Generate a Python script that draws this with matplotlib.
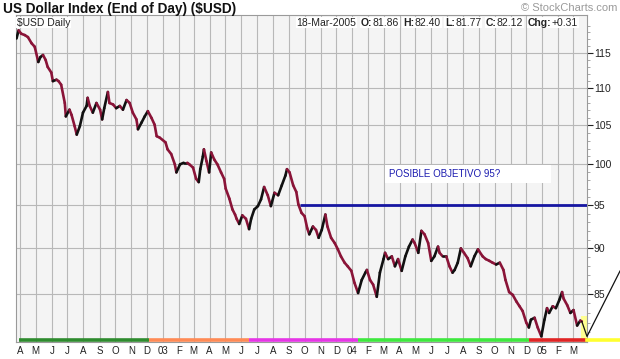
import matplotlib
matplotlib.use("Agg")
import matplotlib.pyplot as plt
import matplotlib.dates as mdates
import pandas as pd
from matplotlib.collections import LineCollection
from matplotlib.lines import Line2D
from matplotlib.patches import Rectangle
from matplotlib.ticker import FixedLocator, FuncFormatter, NullFormatter

PLAIN = ["Liberation Sans", "DejaVu Sans"]

# closes (roughly twice a week)
CLOSE_DATES = [
    "2002-03-25", "2002-03-29", "2002-04-03", "2002-04-10", "2002-04-16", "2002-04-23",
    "2002-04-29", "2002-05-06", "2002-05-10", "2002-05-15", "2002-05-20", "2002-05-24",
    "2002-05-31", "2002-06-03", "2002-06-10", "2002-06-14", "2002-06-19", "2002-06-26",
    "2002-06-28", "2002-07-05", "2002-07-09", "2002-07-15", "2002-07-19", "2002-07-25",
    "2002-07-31", "2002-08-07", "2002-08-09", "2002-08-13", "2002-08-19", "2002-08-26",
    "2002-09-02", "2002-09-06", "2002-09-10", "2002-09-17", "2002-09-20", "2002-09-27",
    "2002-10-03", "2002-10-10", "2002-10-16", "2002-10-23", "2002-10-29", "2002-11-04",
    "2002-11-11", "2002-11-14", "2002-11-21", "2002-11-27", "2002-12-03", "2002-12-10",
    "2002-12-16", "2002-12-20", "2002-12-26", "2003-01-06", "2003-01-10", "2003-01-17",
    "2003-01-24", "2003-01-27", "2003-02-03", "2003-02-10", "2003-02-17", "2003-02-21",
    "2003-02-28", "2003-03-06", "2003-03-11", "2003-03-14", "2003-03-19", "2003-03-21",
    "2003-03-26", "2003-03-31", "2003-04-04", "2003-04-10", "2003-04-16", "2003-04-23",
    "2003-04-29", "2003-05-02", "2003-05-09", "2003-05-15", "2003-05-20", "2003-05-23",
    "2003-05-28", "2003-06-03", "2003-06-10", "2003-06-16", "2003-06-20", "2003-06-26",
    "2003-07-03", "2003-07-09", "2003-07-15", "2003-07-22", "2003-07-28", "2003-08-04",
    "2003-08-11", "2003-08-18", "2003-08-25", "2003-08-28", "2003-09-02", "2003-09-09",
    "2003-09-15", "2003-09-19", "2003-09-25", "2003-10-01", "2003-10-06", "2003-10-10",
    "2003-10-17", "2003-10-23", "2003-10-28", "2003-11-03", "2003-11-10", "2003-11-14",
    "2003-11-21", "2003-11-28", "2003-12-04", "2003-12-10", "2003-12-17", "2003-12-23",
    "2003-12-30", "2004-01-05", "2004-01-12", "2004-01-19", "2004-01-26", "2004-01-29",
    "2004-02-04", "2004-02-10", "2004-02-17", "2004-02-23", "2004-03-01", "2004-03-04",
    "2004-03-10", "2004-03-17", "2004-03-23", "2004-03-29", "2004-04-05", "2004-04-12",
    "2004-04-19", "2004-04-26", "2004-04-30", "2004-05-07", "2004-05-13", "2004-05-19",
    "2004-05-26", "2004-06-01", "2004-06-07", "2004-06-14", "2004-06-17", "2004-06-23",
    "2004-06-30", "2004-07-06", "2004-07-12", "2004-07-16", "2004-07-22", "2004-07-28",
    "2004-08-03", "2004-08-10", "2004-08-16", "2004-08-23", "2004-08-30", "2004-09-01",
    "2004-09-08", "2004-09-14", "2004-09-21", "2004-09-27", "2004-10-04", "2004-10-11",
    "2004-10-18", "2004-10-22", "2004-10-29", "2004-11-05", "2004-11-12", "2004-11-18",
    "2004-11-24", "2004-12-01", "2004-12-06", "2004-12-10", "2004-12-17", "2004-12-23",
    "2004-12-30", "2005-01-05", "2005-01-10", "2005-01-14", "2005-01-21", "2005-01-27",
    "2005-02-03", "2005-02-08", "2005-02-11", "2005-02-18", "2005-02-24", "2005-03-02",
    "2005-03-09", "2005-03-15", "2005-03-18",
]
CLOSES = [
    117.1, 118.3, 117.8, 117.6, 117.3, 116.4,
    115.9, 113.7, 114.4, 114.7, 114.0, 113.0,
    112.2, 111.0, 111.2, 111.0, 110.5, 108.0,
    106.2, 107.1, 106.4, 104.9, 103.8, 104.9,
    106.7, 107.6, 108.7, 107.6, 106.7, 108.0,
    107.1, 105.8, 107.3, 109.5, 108.0, 107.8,
    107.3, 107.6, 107.1, 108.4, 108.0, 106.7,
    105.8, 104.5, 105.4, 106.2, 106.9, 106.0,
    105.1, 103.6, 103.4, 102.8, 101.9, 101.3,
    100.0, 99.0, 100.0, 100.2, 100.2, 100.0,
    99.6, 98.2, 97.8, 99.4, 101.0, 101.9,
    100.4, 99.0, 101.5, 100.6, 100.0, 99.0,
    98.2, 97.0, 95.8, 94.5, 93.9, 93.4,
    92.8, 93.8, 93.4, 92.2, 93.4, 94.5,
    94.9, 95.7, 97.2, 96.2, 94.9, 96.5,
    96.2, 97.4, 98.6, 99.4, 99.0, 97.4,
    96.6, 95.1, 94.1, 93.7, 92.3, 91.6,
    92.5, 92.1, 91.2, 92.1, 93.9, 92.5,
    91.2, 90.6, 89.9, 89.1, 88.4, 88.0,
    87.5, 86.2, 85.1, 86.5, 87.3, 87.6,
    86.5, 86.0, 84.7, 87.3, 88.8, 89.5,
    88.8, 89.1, 88.0, 88.8, 87.5, 89.1,
    90.2, 91.0, 90.6, 89.5, 92.0, 91.6,
    90.6, 88.6, 89.1, 90.2, 89.5, 89.1,
    89.1, 88.0, 87.3, 87.6, 88.4, 90.0,
    89.5, 88.9, 88.0, 89.1, 89.9, 89.7,
    89.1, 88.8, 88.6, 88.4, 88.2, 88.4,
    87.6, 86.5, 85.2, 84.9, 84.2, 83.7,
    83.2, 82.0, 81.5, 82.3, 82.5, 81.5,
    80.6, 82.3, 83.5, 83.0, 83.7, 83.5,
    84.4, 85.2, 84.5, 83.8, 83.0, 83.3,
    81.7, 82.2, 82.12,
]

TARGET_LEVEL = 95
TARGET_FROM = "2003-09-22"
TARGET_LABEL = "POSIBLE OBJETIVO 95?"

# cycle bar along the bottom: boundaries and colours
CYCLE_BOUNDS = ["2002-03-29", "2002-12-05", "2003-06-15", "2004-01-11", "2004-12-06", "2005-03-28"]
CYCLE_COLOURS = ["#2e8b2e", "#ff8a55", "#e635e6", "#3ee83e", "#e02424"]

Y_TICKS = [85, 90, 95, 100, 105, 110, 115]
X_RANGE = ["2002-03-24", "2005-03-28"]
Y_RANGE = [80.03, 120.6]

HEADER_PIECES = [("18-Mar-2005", False), ("O:", True), ("81.86", False), ("H:", True),
                 ("82.40", False), ("L:", True), ("81.77", False), ("C:", True),
                 ("82.12", False), ("Chg:", True), ("+0.31", False)]

dates = mdates.date2num(pd.to_datetime(CLOSE_DATES))
x_lo, x_hi = mdates.date2num(pd.to_datetime(X_RANGE))

fig = plt.figure(figsize=(6.2, 3.59), dpi=100)
ax = fig.add_axes([16 / 620, 17 / 359, 571 / 620, 327 / 359])
ax.set_facecolor("#f4f4f4")
ax.set_yscale("log")
ax.set_xlim(x_lo, x_hi)
ax.set_ylim(*Y_RANGE)

# price line, black when rising, maroon when falling
segs = [[(dates[i], CLOSES[i]), (dates[i + 1], CLOSES[i + 1])] for i in range(len(dates) - 1)]
cols = ["#111111" if CLOSES[i + 1] >= CLOSES[i] else "#8a1438" for i in range(len(dates) - 1)]
ax.add_collection(LineCollection(segs, colors=cols, linewidths=1.9, zorder=3,
                                 capstyle="round", joinstyle="round"))

# target line and label
ax.hlines(TARGET_LEVEL, mdates.date2num(pd.Timestamp(TARGET_FROM)), x_hi,
          color="#1616a2", lw=2, zorder=4)
ax.add_patch(Rectangle((0.646, 0.486), 0.291, 0.055, transform=ax.transAxes,
                       facecolor="white", edgecolor="none", zorder=4))
ax.text(0.653, 0.514, TARGET_LABEL, transform=ax.transAxes, color="#1c1cb0",
        fontsize=7, family=PLAIN, va="center", ha="left", zorder=5)

# cycle bar
bounds = mdates.date2num(pd.to_datetime(CYCLE_BOUNDS))
for i, c in enumerate(CYCLE_COLOURS):
    ax.plot([bounds[i], bounds[i + 1]], [0.005, 0.005], color=c, lw=2.6,
            transform=ax.get_xaxis_transform(), clip_on=False, zorder=5,
            solid_capstyle="butt")
ax.add_patch(Rectangle((dates[-1] - 1, 0.0), x_hi - dates[-1] + 2, 0.08,
                       transform=ax.get_xaxis_transform(), facecolor="#ffff90",
                       edgecolor="none", zorder=2))

# month axis
ax.xaxis.set_major_locator(mdates.MonthLocator())
ax.xaxis.set_major_formatter(FuncFormatter(
    lambda v, _: mdates.num2date(v).strftime("%y") if mdates.num2date(v).month == 1
    else mdates.num2date(v).strftime("%b")[0]))
ax.tick_params(axis="x", length=0, pad=3, labelsize=7, colors="#222222")
for lab in ax.get_xticklabels():
    lab.set_family(PLAIN)

ax.yaxis.tick_right()
ax.yaxis.set_major_locator(FixedLocator(Y_TICKS))
ax.yaxis.set_major_formatter(FuncFormatter(lambda v, _: f"{v:.0f}"))
ax.yaxis.set_minor_locator(FixedLocator([v for v in range(81, 121) if v % 5]))
ax.yaxis.set_minor_formatter(NullFormatter())
ax.tick_params(axis="y", which="major", length=4, width=0.8, pad=1, labelsize=7.5,
               colors="#222222")
ax.tick_params(axis="y", which="minor", length=2, width=0.6, colors="#999999")
for lab in ax.get_yticklabels():
    lab.set_family(PLAIN)

ax.grid(True, which="major", color="#b8b8b8", lw=0.8)
ax.set_axisbelow(True)
for sp in ax.spines.values():
    sp.set_color("#9a9a9a")
    sp.set_linewidth(0.8)

# header rows
fig.text(3 / 620, 1 - 9 / 359, "US Dollar Index (End of Day) ($USD)", fontsize=9.8,
         fontweight="bold", family=PLAIN, va="center", ha="left", color="#111111")
fig.text(617 / 620, 1 - 8 / 359, "\u00a9 StockCharts.com", fontsize=8, family=PLAIN,
         va="center", ha="right", color="#9a9a9a")
ax.text(0.002, 0.992, "$USD Daily", transform=ax.transAxes, fontsize=7.5, family=PLAIN,
        va="top", ha="left", color="#222222",
        bbox=dict(facecolor="white", edgecolor="none", pad=0.6))

prev = ax.text(0.491, 0.992, HEADER_PIECES[0][0], transform=ax.transAxes, fontsize=7.5,
               family=PLAIN, va="top", ha="left", color="#222222",
               bbox=dict(facecolor="white", edgecolor="none", pad=0.6))
for txt, bold in HEADER_PIECES[1:]:
    prev = ax.annotate(txt, xy=(1, 0), xycoords=prev, xytext=(3.0 if bold else 0.4, 0),
                       textcoords="offset points", fontsize=7.5, family=PLAIN,
                       fontweight="bold" if bold else "normal", va="bottom", ha="left",
                       color="#222222",
                       bbox=dict(facecolor="white", edgecolor="none", pad=0.6))

# projected cycle low: down from last close, then up past the right axis
fig.canvas.draw()
p0 = ax.transData.transform((dates[-1], CLOSES[-1]))
p1 = ax.transAxes.transform((1.0, 0.017))
p2 = fig.transFigure.transform((1.0, 0.245))
fig.add_artist(Line2D([p0[0], p1[0], p2[0]], [p0[1], p1[1], p2[1]], transform=None,
                      color="#111111", lw=0.9))
yl = ax.transAxes.transform((1.0, 0.005))
fig.add_artist(Line2D([yl[0], fig.bbox.width], [yl[1], yl[1]], transform=None,
                      color="#ffff30", lw=2.6))

fig.savefig("out.png", dpi=100)
